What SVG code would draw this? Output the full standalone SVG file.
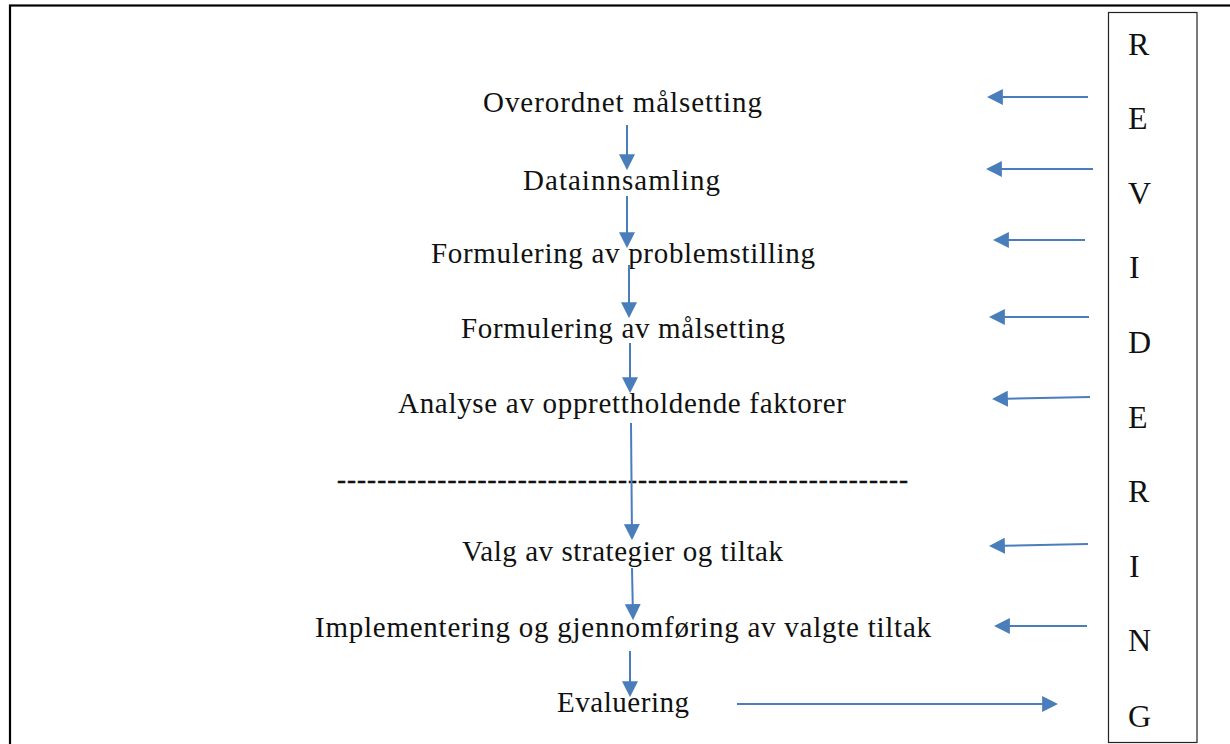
<svg xmlns="http://www.w3.org/2000/svg" width="1230" height="744" viewBox="0 0 1230 744">
<style>
.t{font-family:"Liberation Serif","Times New Roman",serif;font-size:29px;fill:#111}
.d{font-family:"Liberation Serif","Times New Roman",serif;font-size:27px;fill:#111;stroke:#111;stroke-width:0.5}
.l{font-family:"Liberation Serif","Times New Roman",serif;font-size:32px;fill:#111}
.c{stroke:#4A7EBB;stroke-width:2;fill:none;marker-end:url(#ah)}
</style>
<defs>
<marker id="ah" markerUnits="userSpaceOnUse" markerWidth="16" markerHeight="16" viewBox="0 0 15 15" refX="13" refY="7.5" orient="auto">
<path d="M0,0 L15,7.5 L0,15 z" fill="#4A7EBB"/>
</marker>
</defs>
<rect width="1230" height="744" fill="#fff"/>
<rect id="frame" x="10" y="5.5" width="1250" height="770" fill="none" stroke="#000" stroke-width="2.2"/>

<g id="revidering">
<rect x="1108.5" y="12.5" width="88.5" height="730" fill="none" stroke="#222" stroke-width="1.2"/>
<text class="l" x="1128" y="55">R</text>
<text class="l" x="1128" y="129">E</text>
<text class="l" x="1128" y="204">V</text>
<text class="l" x="1129" y="278">I</text>
<text class="l" x="1128" y="353">D</text>
<text class="l" x="1128" y="428">E</text>
<text class="l" x="1128" y="502">R</text>
<text class="l" x="1129" y="577">I</text>
<text class="l" x="1128" y="651">N</text>
<text class="l" x="1128" y="727">G</text>
</g>

<g id="n1"><text class="t" x="483" y="112" textLength="279">Overordnet målsetting</text></g>
<g id="n2"><text class="t" x="523" y="190" textLength="197">Datainnsamling</text></g>
<g id="n3"><text class="t" x="431" y="263" textLength="384">Formulering av problemstilling</text></g>
<g id="n4"><text class="t" x="461" y="338" textLength="324">Formulering av målsetting</text></g>
<g id="n5"><text class="t" x="398" y="413" textLength="448">Analyse av opprettholdende faktorer</text></g>
<g id="divider"><text class="d" x="337" y="488" textLength="571">---------------------------------------------------------</text></g>
<g id="n6"><text class="t" x="462" y="561" textLength="321">Valg av strategier og tiltak</text></g>
<g id="n7"><text class="t" x="315" y="637" textLength="616">Implementering og gjennomføring av valgte tiltak</text></g>
<g id="n8"><text class="t" x="557" y="712" textLength="132">Evaluering</text></g>

<g id="connectors">
<line class="c" x1="627" y1="125" x2="627" y2="168"/>
<line class="c" x1="627" y1="196" x2="627" y2="246"/>
<line class="c" x1="629" y1="265" x2="629" y2="316"/>
<line class="c" x1="630" y1="343" x2="630" y2="391"/>
<line class="c" x1="631" y1="423" x2="632" y2="538"/>
<line class="c" x1="632" y1="568" x2="633" y2="618"/>
<line class="c" x1="630" y1="651" x2="630" y2="695"/>
<line class="c" x1="1088" y1="97" x2="989" y2="97"/>
<line class="c" x1="1093" y1="169" x2="988" y2="169"/>
<line class="c" x1="1085" y1="240" x2="995" y2="240"/>
<line class="c" x1="1089" y1="317" x2="991" y2="317"/>
<line class="c" x1="1090" y1="397" x2="994" y2="399"/>
<line class="c" x1="1088" y1="544" x2="991" y2="546"/>
<line class="c" x1="1087" y1="626" x2="996" y2="626"/>
<line class="c" x1="737" y1="704" x2="1056" y2="704"/>
</g>
</svg>
